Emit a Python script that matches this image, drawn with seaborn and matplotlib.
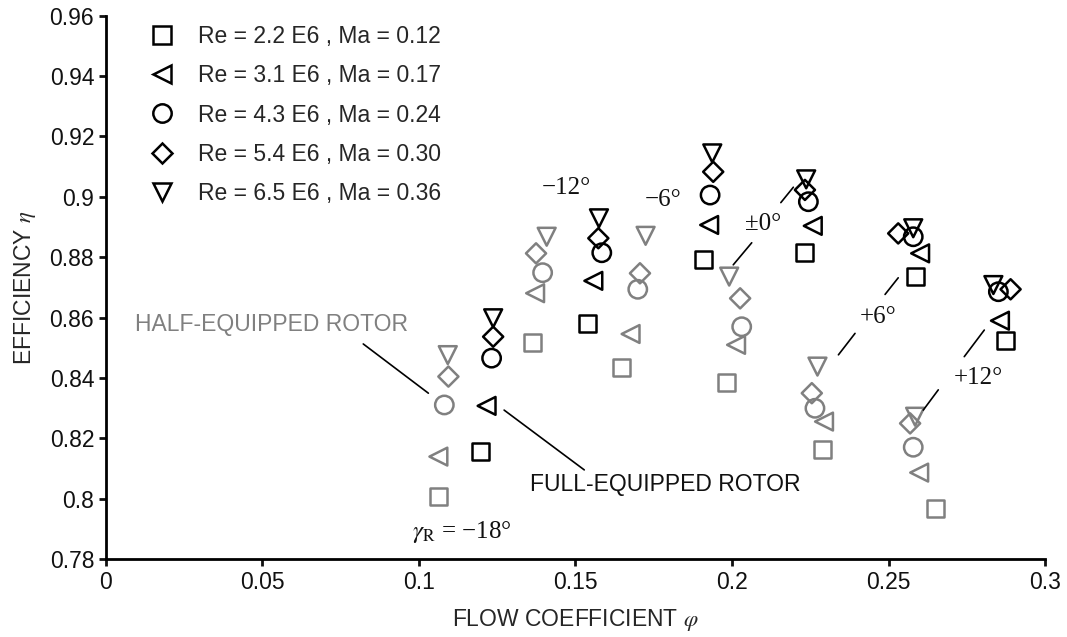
import matplotlib
matplotlib.use("Agg")
import matplotlib.pyplot as plt
from matplotlib.lines import Line2D
import seaborn as sns
import pandas as pd

# setting angles of the rotor (one column per group)
angles = [-18, -12, -6, 0, 6, 12]
series_labels = [
    "Re = 2.2 E6 , Ma = 0.12",
    "Re = 3.1 E6 , Ma = 0.17",
    "Re = 4.3 E6 , Ma = 0.24",
    "Re = 5.4 E6 , Ma = 0.30",
    "Re = 6.5 E6 , Ma = 0.36",
]
series_markers = ["s", "<", "o", "D", "v"]
series_sizes = [150, 165, 175, 105, 165]

# half-equipped rotor (gray), rows = series, cols = angles
half_phi = [
    [0.1062, 0.1363, 0.1648, 0.1983, 0.2288, 0.2651],
    [0.1062, 0.1371, 0.1676, 0.2013, 0.2294, 0.2598],
    [0.1081, 0.1395, 0.1699, 0.2031, 0.2265, 0.2579],
    [0.1094, 0.1374, 0.1706, 0.2026, 0.2255, 0.2569],
    [0.1092, 0.1408, 0.1724, 0.1991, 0.2273, 0.2585],
]
half_eta = [
    [0.8007, 0.8519, 0.8434, 0.8386, 0.8164, 0.7969],
    [0.8140, 0.8681, 0.8546, 0.8510, 0.8256, 0.8087],
    [0.8311, 0.8749, 0.8694, 0.8570, 0.8300, 0.8171],
    [0.8405, 0.8813, 0.8747, 0.8664, 0.8350, 0.8250],
    [0.8476, 0.8868, 0.8871, 0.8736, 0.8438, 0.8272],
]
# full-equipped rotor (black)
full_phi = [
    [0.1198, 0.1538, 0.1908, 0.2231, 0.2585, 0.2875],
    [0.1216, 0.1557, 0.1927, 0.2258, 0.2601, 0.2856],
    [0.1232, 0.1584, 0.1930, 0.2244, 0.2579, 0.2851],
    [0.1237, 0.1573, 0.1940, 0.2233, 0.2531, 0.2890],
    [0.1237, 0.1575, 0.1937, 0.2237, 0.2579, 0.2835],
]
full_eta = [
    [0.8156, 0.8581, 0.8794, 0.8817, 0.8736, 0.8524],
    [0.8308, 0.8722, 0.8907, 0.8904, 0.8813, 0.8590],
    [0.8466, 0.8815, 0.9006, 0.8984, 0.8868, 0.8686],
    [0.8537, 0.8863, 0.9083, 0.9023, 0.8879, 0.8694],
    [0.8598, 0.8929, 0.9144, 0.9058, 0.8896, 0.8708],
]

x_ticks = [0, 0.05, 0.1, 0.15, 0.2, 0.25, 0.3]
x_tick_labels = ["0", "0.05", "0.1", "0.15", "0.2", "0.25", "0.3"]
y_ticks = [0.78, 0.8, 0.82, 0.84, 0.86, 0.88, 0.9, 0.92, 0.94, 0.96]
y_tick_labels = ["0.78", "0.8", "0.82", "0.84", "0.86", "0.88", "0.9", "0.92", "0.94", "0.96"]

GRAY = "#808080"

rows = []
for rotor, phis, etas in [("half", half_phi, half_eta), ("full", full_phi, full_eta)]:
    for i, lab in enumerate(series_labels):
        for j, ang in enumerate(angles):
            rows.append({"phi": phis[i][j], "eta": etas[i][j], "rotor": rotor,
                         "series": lab, "angle": ang})
df = pd.DataFrame(rows)

sns.set_style("ticks")
plt.rcParams["font.family"] = ["Liberation Sans", "DejaVu Sans"]
plt.rcParams["mathtext.fontset"] = "stix"

fig = plt.figure(figsize=(10.67, 6.37), dpi=100)
ax = fig.add_axes([0.0993, 0.122, 0.8801, 0.8534])

sns.scatterplot(data=df, x="phi", y="eta", hue="rotor", style="series", size="series",
                palette={"half": GRAY, "full": "black"},
                markers=dict(zip(series_labels, series_markers)),
                sizes=dict(zip(series_labels, series_sizes)),
                legend=False, ax=ax)
for coll in ax.collections:
    fc = coll.get_facecolors()
    coll.set_edgecolors(fc)
    coll.set_facecolors("none")
    coll.set_linewidths(1.8)

ax.set_xlim(0, 0.3)
ax.set_ylim(0.78, 0.96)
ax.set_xticks(x_ticks)
ax.set_xticklabels(x_tick_labels)
ax.set_yticks(y_ticks)
ax.set_yticklabels(y_tick_labels)
ax.tick_params(labelsize=16.5, width=2, length=5, colors="#111111")
for s in ["left", "bottom"]:
    ax.spines[s].set_linewidth(2)
    ax.spines[s].set_color("black")
sns.despine(ax=ax)

ax.set_xlabel(r"FLOW COEFFICIENT $\varphi$", fontsize=16.5, labelpad=9)
ax.set_ylabel(r"EFFICIENCY $\eta$", fontsize=16.5, labelpad=8)

handles = [Line2D([], [], marker=m, linestyle="none", markerfacecolor="none",
                  markeredgecolor="black", markeredgewidth=1.8,
                  markersize=(sz ** 0.5))
           for m, sz in zip(series_markers, series_sizes)]
ax.legend(handles, series_labels, loc="upper left", bbox_to_anchor=(0.013, 1.02),
          frameon=False, fontsize=16.5, handlelength=2.0, handletextpad=0.6,
          labelspacing=0.7)

# angle labels
serif = ["Liberation Serif", "DejaVu Serif"]
angle_text = [
    (0.1472, 0.9028, "\u221212\u00b0"),
    (0.1781, 0.8990, "\u22126\u00b0"),
    (0.2100, 0.8910, "\u00b10\u00b0"),
    (0.2467, 0.8603, "+6\u00b0"),
    (0.2787, 0.8399, "+12\u00b0"),
    (0.1136, 0.7891, "$\\gamma_{\\mathrm{R}}$ = \u221218\u00b0"),
]
for x, y, t in angle_text:
    ax.text(x, y, t, ha="center", va="center", fontsize=18, family=serif, color="#111111")

leader_lines = [
    ((0.2156, 0.2196), (0.8981, 0.9032)),
    ((0.2063, 0.2004), (0.8848, 0.8775)),
    ((0.2489, 0.2531), (0.8677, 0.8732)),
    ((0.2393, 0.2340), (0.8548, 0.8477)),
    ((0.2742, 0.2806), (0.8471, 0.8559)),
    ((0.2659, 0.2611), (0.8361, 0.8294)),
]
for xs, ys in leader_lines:
    ax.plot(xs, ys, color="black", lw=1.2)

ax.text(0.0529, 0.8576, "HALF-EQUIPPED ROTOR", ha="center", va="center",
        fontsize=16.5, color=GRAY)
ax.plot([0.0822, 0.1030], [0.8513, 0.8350], color="black", lw=1.2)
ax.text(0.1786, 0.8046, "FULL-EQUIPPED ROTOR", ha="center", va="center",
        fontsize=16.5, color="#111111")
ax.plot([0.1272, 0.1528], [0.8294, 0.8096], color="black", lw=1.2)

fig.savefig("out.png", dpi=100)
plt.close(fig)
